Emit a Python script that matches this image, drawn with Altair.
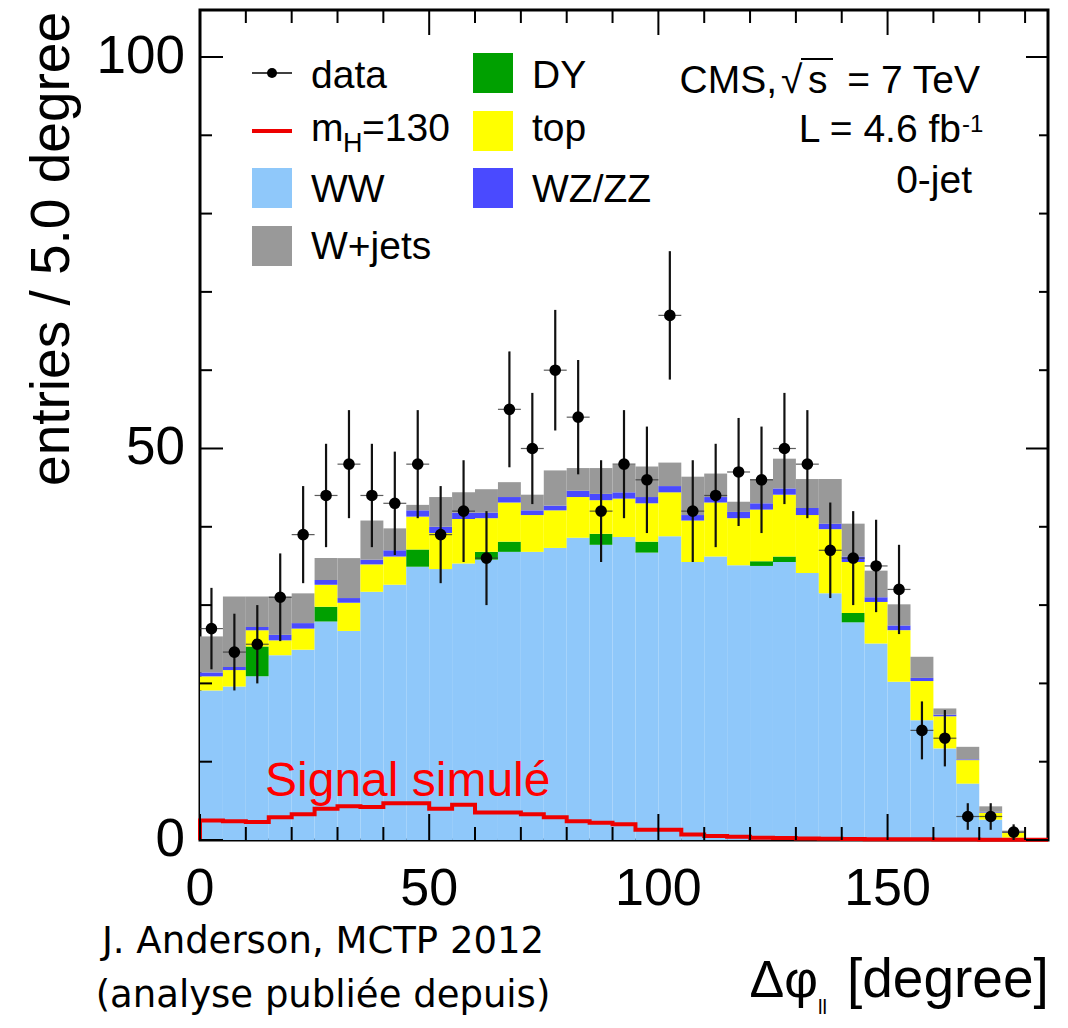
import altair as alt
import pandas as pd

# ---------------- data ----------------
bin_lo = [5 * i for i in range(36)]            # 5-degree bins, 0..180
ww    = [19.1,19.6,20.9,23.6,24.3,27.9,26.7,31.7,32.6,34.9,34.6,35.3,35.8,36.8,36.8,37.3,38.6,37.7,
         38.7,36.7,38.8,35.5,36.2,35.1,35.0,35.5,34.1,31.5,27.8,25.1,20.2,15.3,11.7,7.2,2.6,0.3]
dy    = [0,0,3.8,0,0,1.9,0,0,0,2.2,0,0,1.0,1.3,0,0,0,1.4,0,1.4,0,0,0,0,0.6,0.7,0,0,1.2,0,0,0,0,0,0,0]
top   = [1.8,2.1,2.1,1.9,2.7,2.8,3.6,3.5,3.6,4.2,4.6,5.7,4.3,5.0,4.7,4.8,5.2,4.3,4.9,4.9,5.6,5.3,6.9,
         6.0,6.6,7.9,7.4,8.2,6.5,5.3,6.6,5.0,4.1,3.0,0.9,0.6]
wzzz  = [0.5,0.4,0.4,0.7,0.7,0.6,0.6,0.6,0.8,0.8,0.8,0.8,0.7,0.7,0.6,0.6,0.8,0.8,0.8,0.8,0.8,0.7,0.7,
         0.8,0.8,0.8,0.9,0.7,0.7,0.6,0.6,0.4,0.2,0.1,0.1,0.0]
wjets = [4.6,9.0,3.9,4.9,3.8,2.8,5.1,5.0,2.8,0.7,3.8,2.6,3.0,1.9,2.0,4.5,2.9,3.3,3.5,3.9,3.0,4.9,3.0,
         1.3,3.1,3.8,3.7,5.7,4.2,3.4,2.7,2.7,0.8,1.6,0.7,0.3]
data  = [27,24,25,31,39,44,48,44,43,48,39,42,36,55,50,60,54,42,48,46,67,42,44,47,46,50,48,37,36,35,
         32,14,13,3,3,1]
data_err = [5.2,4.9,5.0,5.6,6.2,6.6,6.9,6.6,6.6,6.9,6.2,6.5,6.0,7.4,7.1,7.7,7.3,6.5,6.9,6.8,8.2,6.5,
            6.6,6.9,6.8,7.1,6.9,6.1,6.0,5.9,5.7,3.7,3.6,1.7,1.7,1.0]
signal_lo = [5 * i for i in range(37)]
signal = [2.5,2.4,2.3,2.9,3.3,4.0,4.3,4.2,4.7,4.7,4.0,4.5,3.5,3.5,3.3,2.9,2.4,2.2,2.0,1.3,1.3,0.7,
          0.5,0.4,0.3,0.25,0.2,0.15,0.12,0.1,0.1,0.08,0.06,0.05,0.04,0.03,0.02]

comp_names  = ["WW", "DY", "top", "WZ/ZZ", "W+jets"]
comp_colors = ["#8fc8fa", "#00a000", "#ffff00", "#4a4aff", "#999999"]
x_major = [0, 50, 100, 150]
x_labels = ["0", "50", "100", "150"]
x_minor = [v for v in range(10, 181, 10) if v % 50 != 0]
y_major = [0, 50, 100]
y_labels = ["0", "50", "100"]
y_minor = [v for v in range(10, 100, 10) if v != 50]

# ---------------- layout ----------------
BIN = 5
W, H = 848, 830
OX, OY = 200, 10          # page position of plot origin
FONT = "Liberation Sans"
xs = alt.Scale(domain=[0, 185], nice=False, zero=False)
ys = alt.Scale(domain=[0, 106], nice=False, zero=False)

rows = []
for i, lo in enumerate(bin_lo):
    base = 0.0
    for name, vals in zip(comp_names, [ww, dy, top, wzzz, wjets]):
        v = vals[i]
        rows.append(dict(comp=name, lo=lo, hi=lo + BIN, y0=base, y1=base + v))
        base += v
stack_df = pd.DataFrame(rows)

bars = alt.Chart(stack_df).mark_rect(strokeWidth=0).encode(
    x=alt.X("lo:Q", scale=xs, axis=None),
    x2="hi:Q",
    y=alt.Y("y0:Q", scale=ys, axis=None),
    y2="y1:Q",
    color=alt.Color("comp:N", scale=alt.Scale(domain=comp_names, range=comp_colors), legend=None),
)

sig_df = pd.DataFrame({
    "x": [0] + signal_lo + [185],
    "y": [0] + signal + [signal[-1]],
    "o": list(range(len(signal) + 2)),
})
sig_line = alt.Chart(sig_df).mark_line(color="#ee0000", strokeWidth=4, interpolate="step-after").encode(
    x=alt.X("x:Q", scale=xs, axis=None),
    y=alt.Y("y:Q", scale=ys, axis=None),
    order="o:Q",
)

ddf = pd.DataFrame({
    "lo": bin_lo,
    "hi": [l + BIN for l in bin_lo],
    "c": [l + BIN / 2 for l in bin_lo],
    "n": data,
    "elo": [n - e for n, e in zip(data, data_err)],
    "ehi": [n + e for n, e in zip(data, data_err)],
})
err = alt.Chart(ddf).mark_rule(color="#111111", strokeWidth=2.2).encode(
    x=alt.X("c:Q", scale=xs, axis=None),
    y=alt.Y("elo:Q", scale=ys, axis=None), y2="ehi:Q")
xerr = alt.Chart(ddf).mark_rule(color="#333333", strokeWidth=1.2, opacity=0.8).encode(
    x=alt.X("lo:Q", scale=xs, axis=None), x2="hi:Q",
    y=alt.Y("n:Q", scale=ys, axis=None))
pts = alt.Chart(ddf).mark_circle(size=135, color="black", opacity=1).encode(
    x=alt.X("c:Q", scale=xs, axis=None),
    y=alt.Y("n:Q", scale=ys, axis=None))

# ---------------- inward ticks on all four sides ----------------
def xticks(vals, y_from, y_to):
    return alt.Chart(pd.DataFrame({"v": vals})).mark_rule(color="black", strokeWidth=2).encode(
        x=alt.X("v:Q", scale=xs, axis=None), y=alt.value(y_from), y2=alt.value(y_to))

def yticks(vals, x_from, x_to):
    return alt.Chart(pd.DataFrame({"v": vals})).mark_rule(color="black", strokeWidth=2).encode(
        y=alt.Y("v:Q", scale=ys, axis=None), x=alt.value(x_from), x2=alt.value(x_to))

ticks = [
    xticks(x_major, H, H - 26), xticks(x_minor, H, H - 13),
    xticks(x_major, 0, 25), xticks(x_minor, 0, 13),
    yticks(y_major, 0, 23), yticks(y_minor, 0, 12),
    yticks(y_major, W, W - 22), yticks(y_minor, W, W - 9),
]

# tick labels, placed through the same scales
x_tick_labels = alt.Chart(pd.DataFrame({"v": x_major, "t": x_labels})).mark_text(
    fontSize=52, font=FONT, color="black", align="center", baseline="alphabetic").encode(
    x=alt.X("v:Q", scale=xs, axis=None), y=alt.value(905 - OY), text="t:N")
y_tick_labels = alt.Chart(pd.DataFrame({"v": y_major, "t": y_labels})).mark_text(
    fontSize=53, font=FONT, color="black", align="right", baseline="middle").encode(
    y=alt.Y("v:Q", scale=ys, axis=None), x=alt.value(185 - OX), text="t:N")

# ---------------- annotations ----------------
one = pd.DataFrame({"k": [0]})

def txt(s, x, y, size, align="left", color="black", font=FONT, baseline="alphabetic",
        weight="normal", angle=0):
    return alt.Chart(one).mark_text(text=s, align=align, baseline=baseline, fontSize=size,
                                    font=font, color=color, fontWeight=weight, angle=angle).encode(
        x=alt.value(x - OX), y=alt.value(y - OY))

def box(cx, cy, color, half=20):
    return alt.Chart(one).mark_rect(color=color).encode(
        x=alt.value(cx - half - OX), x2=alt.value(cx + half - OX),
        y=alt.value(cy - half - OY), y2=alt.value(cy + half - OY))

def hline(x1, x2, y, color, width):
    return alt.Chart(one).mark_rule(color=color, strokeWidth=width).encode(
        x=alt.value(x1 - OX), x2=alt.value(x2 - OX), y=alt.value(y - OY))

LEG = 39
legend = [
    hline(252, 292, 73, "black", 1.5),
    alt.Chart(one).mark_circle(size=100, color="black", opacity=1).encode(
        x=alt.value(272 - OX), y=alt.value(73 - OY)),
    txt("data", 311, 88, LEG),
    hline(252, 292, 131, "#ee0000", 4),
    txt("m", 311, 141, LEG),
    txt("H", 343, 152, 27),
    txt("=130", 362, 141, LEG),
    box(272, 188, comp_colors[0]), txt("WW", 311, 202, LEG),
    box(272, 246, comp_colors[4]), txt("W+jets", 311, 259, LEG),
    box(493, 73, comp_colors[1]), txt("DY", 532, 88, LEG),
    box(493, 131, comp_colors[2]), txt("top", 532, 141, LEG),
    box(493, 188, comp_colors[3]), txt("WZ/ZZ", 532, 202, LEG),
]

labels = [
    txt("entries / 5.0 degree", 69, 12, 55, align="right", angle=270),
    txt("CMS,", 777, 93, LEG, align="right"),
    txt("\u221a", 781, 93, LEG),
    txt("s", 808, 93, LEG),
    hline(801, 833, 59, "black", 2),
    txt("= 7 TeV", 980, 93, LEG, align="right"),
    txt("L = 4.6 fb", 961, 142, LEG, align="right"),
    txt("-1", 962, 132, 24),
    txt("0-jet", 972, 193, LEG, align="right"),
    txt("Signal simul\u00e9", 265, 796, 48, color="#ff0000"),
    txt("\u0394\u03c6", 818, 997, 52, align="right"),
    txt("ll", 818, 1014, 20),
    txt("[degree]", 847, 997, 55),
    txt("J. Anderson, MCTP 2012", 323, 953, 37, align="center", font="DejaVu Sans"),
    txt("(analyse publi\u00e9e depuis)", 323, 1007, 37, align="center", font="DejaVu Sans"),
]

chart = alt.layer(
    bars, sig_line, err, xerr, pts, *ticks, x_tick_labels, y_tick_labels, *legend, *labels
).properties(
    width=W, height=H,
    autosize=alt.AutoSizeParams(type="none"),
    padding={"left": 192, "top": 2, "right": 12, "bottom": 180},
    background="white",
).configure_view(stroke="black", strokeWidth=3)

chart.save("out.html", embed_options={"renderer": "svg", "actions": False})
